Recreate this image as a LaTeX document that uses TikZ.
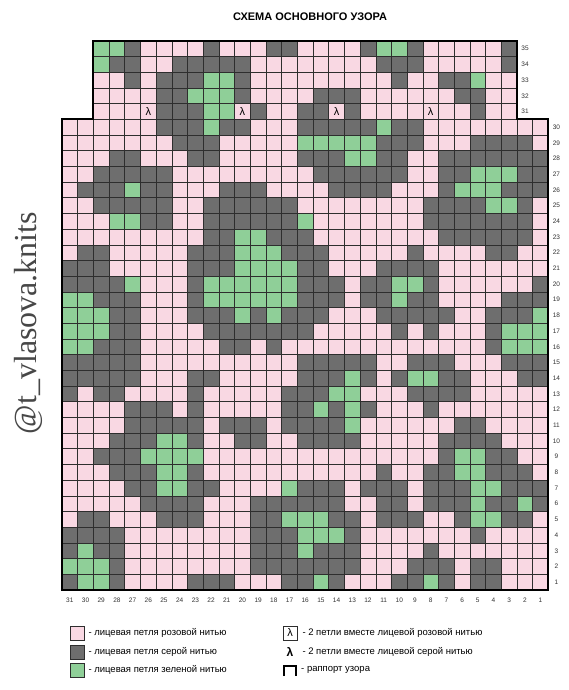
\documentclass[tikz,border=0pt]{standalone}
\usepackage{fontspec}
\setmainfont{Liberation Sans}
\newfontfamily\markfont{Liberation Serif}
\usetikzlibrary{positioning}

\definecolor{cellP}{HTML}{F9D8E3}
\definecolor{cellL}{HTML}{F9D8E3}
\definecolor{cellG}{HTML}{6E6E6E}
\definecolor{cellN}{HTML}{8FCF98}
\definecolor{gridcol}{HTML}{2E2E2E}

\tikzset{
  cellbox/.style={draw=gridcol, line width=0.6pt},
  stitchtwo/.style={font=\fontsize{11}{11}\selectfont, inner sep=0pt},
  rowlabel/.style={font=\fontsize{6.5}{7}\selectfont, text=black!80, inner sep=0pt},
  keybox/.style={draw=gridcol, line width=0.6pt, minimum size=14pt, inner sep=0pt},
  keytext/.style={font=\fontsize{9.5}{10}\selectfont, anchor=west, inner sep=0pt},
}
\newcommand{\cs}{15.69}

\makeatletter
% one cell: row, index from the left edge, colour letter
\newcommand\chartcell[3]{%
  \filldraw[cellbox, fill=cell#3] ({62+#2*\cs},{590-#1*\cs}) rectangle ++(\cs,\cs);
  \if#3L\node[stitchtwo] at ({62+(#2+0.5)*\cs},{590-(#1-0.5)*\cs}) {λ};\fi}
% one row: number, first column, cells
\newcommand\chartrow[3]{%
  \pgfmathtruncatemacro\colx{31-#2}%
  \@tfor\k:=#3\do{\chartcell{#1}{\colx}{\k}\pgfmathtruncatemacro\colx{\colx+1}}%
  \node[rowlabel] (row#1) at ({62+\colx*\cs+8},{590-(#1-0.5)*\cs}) {#1};}
\makeatother

\begin{document}
\begin{tikzpicture}[x=1pt,y=-1pt]
  \fill[white] (0,0) rectangle (568,690);
  \useasboundingbox (0,0) rectangle (568,690);

  \node[font=\bfseries\fontsize{11}{11}\selectfont] (title) at (310,17) {СХЕМА ОСНОВНОГО УЗОРА};
  \node[rotate=90, font=\markfont\fontsize{32}{32}\selectfont, text=black!72] (mark) at (28,323) {@t\_vlasova.knits};

  % chart
  \chartrow{35}{29}{NNGPPPPGPPPGGPPPPGNNGPPPPPG}
  \chartrow{34}{29}{NGGPPGGGGGPPPPPPPPGGGPPPPPG}
  \chartrow{33}{29}{PPGPGGGNNGPPPPPPPPPGPPGGNPP}
  \chartrow{32}{29}{PPPPGGNNNGPPPPGGGPPPPPPGGPP}
  \chartrow{31}{29}{PPPLGGGNNLGPPGGLGPPPPLPPGPP}
  \chartrow{30}{31}{PPPPPPGGGNGGPPPGGGGGNGGPPPPPPPP}
  \chartrow{29}{31}{PPPPPPPGGGPPPPPNNNNNGGGPPPGGGGP}
  \chartrow{28}{31}{PPPGGPPPGGPPPPPGGGNNGGPPGGGGGGG}
  \chartrow{27}{31}{PPGGGGGPPPPPPPPPGGGGGGPPGGNNNGG}
  \chartrow{26}{31}{PGGGNGGPPPGGGPPPPGGGGPPPGNNNGGG}
  \chartrow{25}{31}{PPGGGGGPPGGGGGGPPPPPPPPGGGGNNGP}
  \chartrow{24}{31}{PPPNNGGPPGGGGGGNPPPPPPPGGGGGGGP}
  \chartrow{23}{31}{PPPPPPPPPGGNNGGGPPPPPPPPGGGGGGP}
  \chartrow{22}{31}{PGGPPPPPGGGNNNGGGPPPPPGPPPPGGPP}
  \chartrow{21}{31}{GGGPPPPPGGGNNNNGGPPPGGGGPPPPPPP}
  \chartrow{20}{31}{GGGGNPPPGNNNNNNGGGPGGNNGPPPPPPG}
  \chartrow{19}{31}{NNGGGPPPGNNNNNNGGGPGGNGGPPPPGGG}
  \chartrow{18}{31}{NNNGGPPPGGGNGNGGGPPPGGGGGPPGGGN}
  \chartrow{17}{31}{NNNGGPPPPGGGGGGGPPPPPGPGPPPGNNN}
  \chartrow{16}{31}{NNGGGPPPPPGGPGPPPPPPPPPPPPPGNNN}
  \chartrow{15}{31}{GGGGGPPPPPPPPPPGGGGGPPGGGPPPGGG}
  \chartrow{14}{31}{GGGGGPPPGGPPPPPGGGNGPGNNGGPPPGG}
  \chartrow{13}{31}{GPGGPPPPGPPPPPGGGNNPPPGGGGPPPPP}
  \chartrow{12}{31}{PPPPGGGPGPPPPPGGNGNGPPPGPPPPPPP}
  \chartrow{11}{31}{PPPPGGGGGPGGGPGGGGNPPPPPPGGPPPP}
  \chartrow{10}{31}{PPPGGGNNGPPGGPPGGGGPPPPPGGGGPPP}
  \chartrow{9}{31}{PPGGGNNNNPPPPPPPPPPPPPPPGNNGGPP}
  \chartrow{8}{31}{PPPGGGNNGPPPPPPPPPPPGPPGGNNGGGP}
  \chartrow{7}{31}{PPPPGGNNGGPPPPNGGGPGGGPGGGNNGGG}
  \chartrow{6}{31}{PPPPPGGGGPPPGGGGGGPPGGPGGGNGGNG}
  \chartrow{5}{31}{PGGPPPGGGPPPGGNNNGGPGGGPPGNNGGP}
  \chartrow{4}{31}{GGGGPPPPPPPPGGGNNNGPPPPPPPGPPPP}
  \chartrow{3}{31}{GNGGPPPPPPPPGGGNGGGPPPPGPPPPPPP}
  \chartrow{2}{31}{NNNGPPPPPPPPGGGGGGGPPPGGGPGGPPP}
  \chartrow{1}{31}{GNNGPPPPGGGPPPGGNGPPPGGNGPGGPPP}

  % repeat outline
  \draw[line width=1.8pt, line join=miter]
    (62,590) -- (62,{590-30*\cs}) -- ({62+2*\cs},{590-30*\cs}) -- ({62+2*\cs},{590-35*\cs})
    -- ({62+29*\cs},{590-35*\cs}) -- ({62+29*\cs},{590-30*\cs}) -- ({62+31*\cs},{590-30*\cs})
    -- ({62+31*\cs},590) -- cycle;

  \foreach \c in {1,...,31}
    \node[rowlabel] (col\c) at ({62+(31.5-\c)*\cs},600) {\c};

  % key
  \node[keybox, fill=cellP] (keyP) at (77,633) {};
  \node[keybox, fill=cellG] (keyG) at (77,652) {};
  \node[keybox, fill=cellN] (keyN) at (77,670) {};
  \node[keytext, right=4pt of keyP] (txtP) {- лицевая петля розовой нитью};
  \node[keytext, right=4pt of keyG] (txtG) {- лицевая петля серой нитью};
  \node[keytext, right=4pt of keyN] (txtN) {- лицевая петля зеленой нитью};
  \node[keybox, fill=white, font=\fontsize{11}{11}\selectfont] (keyL) at (290,633) {λ};
  \node[keybox, draw=none, font=\bfseries\fontsize{12}{12}\selectfont] (keyD) at (290,652) {λ};
  \draw[line width=1.5pt] (284,676) -- (284,666) -- (296,666) -- (296,676);
  \coordinate (keyR) at (296,670);
  \node[keytext, right=5pt of keyL] (txtL) {- 2 петли вместе лицевой розовой нитью};
  \node[keytext, right=5pt of keyD] (txtD) {- 2 петли вместе лицевой серой нитью};
  \node[keytext, right=5pt of keyR] (txtR) {- раппорт узора};
\end{tikzpicture}
\end{document}
